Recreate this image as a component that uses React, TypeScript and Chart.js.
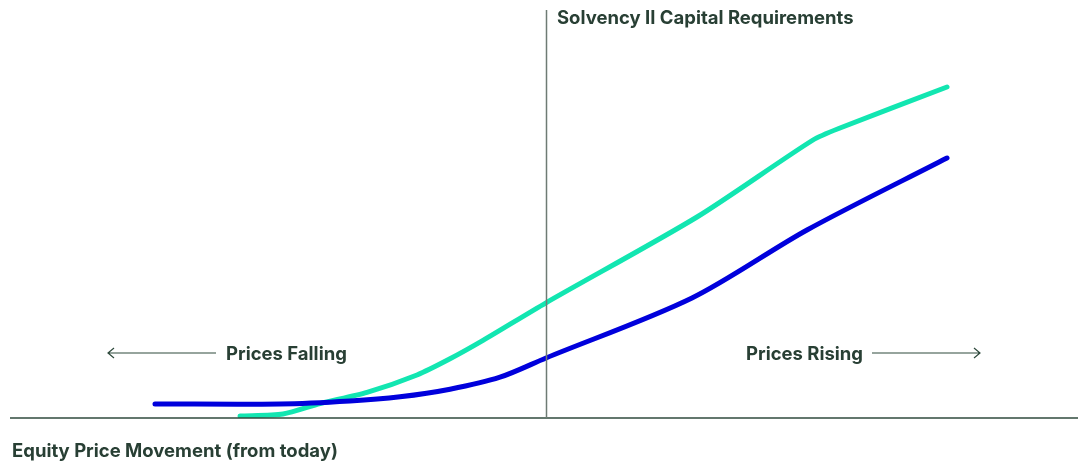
import React, { useEffect, useRef } from "react";
import { Chart, registerables } from "chart.js";

Chart.register(...registerables);

// Equity price movement (units relative to today = 0) and capital requirement levels
const tealX = [-76.5, -65.75, -56.5, -44.75, -32.25, -24, -15.75, 0, 37.75, 66.75, 73.5, 100.25];
const tealY = [0.5, 1, 3.6, 6.4, 10.75, 14.8, 19.4, 28.8, 50.25, 69.5, 72.5, 82.75];
const blueX = [-97.75, -66.5, -49, -36.5, -24, -11.5, 0, 36.5, 65.25, 100.25];
const blueY = [3.5, 3.5, 4.25, 5.3, 7.2, 10.2, 15.0, 30, 47, 65];

const X_MIN = -134;
const X_MAX = 133;
const Y_MIN = 0;
const Y_MAX = 102;

const TITLE = "Solvency II Capital Requirements";
const LEFT_LABEL = "Prices Falling";
const RIGHT_LABEL = "Prices Rising";
const AXIS_LABEL = "Equity Price Movement (from today)";

const TEXT_COLOR = "#283f34";
const FONT = "bold 18.5px Inter, 'Noto Sans', sans-serif";

const annotations = {
  id: "annotations",
  afterDraw(chart: any) {
    const ctx = chart.ctx;
    const xs = chart.scales.x;
    const ys = chart.scales.y;
    const area = chart.chartArea;
    const x0 = xs.getPixelForValue(0);
    const yAxis = ys.getPixelForValue(0);
    ctx.save();
    // x axis line
    ctx.strokeStyle = "#2f4a3d";
    ctx.lineWidth = 1.5;
    ctx.beginPath();
    ctx.moveTo(area.left, yAxis);
    ctx.lineTo(area.right, yAxis);
    ctx.stroke();
    // vertical line at today
    ctx.strokeStyle = "#6e7b74";
    ctx.lineWidth = 1.5;
    ctx.beginPath();
    ctx.moveTo(Math.round(x0) + 0.5, area.top);
    ctx.lineTo(Math.round(x0) + 0.5, yAxis);
    ctx.stroke();

    ctx.fillStyle = TEXT_COLOR;
    ctx.font = FONT;
    ctx.textBaseline = "middle";
    ctx.textAlign = "left";
    ctx.fillText(TITLE, x0 + 11, area.top + 8);

    const labelY = ys.getPixelForValue(16);
    ctx.fillText(LEFT_LABEL, xs.getPixelForValue(-80), labelY);
    ctx.fillText(RIGHT_LABEL, xs.getPixelForValue(50), labelY);
    ctx.fillText(AXIS_LABEL, area.left + 2, yAxis + 33);

    // arrows
    ctx.strokeStyle = "#2f4a3d";
    ctx.lineWidth = 1.2;
    const ay = labelY - 1;
    const lA = xs.getPixelForValue(-109.5);
    const lB = xs.getPixelForValue(-82.5);
    ctx.beginPath();
    ctx.moveTo(lA, ay);
    ctx.lineTo(lB, ay);
    ctx.moveTo(lA + 6, ay - 5);
    ctx.lineTo(lA, ay);
    ctx.lineTo(lA + 6, ay + 5);
    ctx.stroke();
    const rA = xs.getPixelForValue(81.5);
    const rB = xs.getPixelForValue(108.5);
    ctx.beginPath();
    ctx.moveTo(rA, ay);
    ctx.lineTo(rB, ay);
    ctx.moveTo(rB - 6, ay - 5);
    ctx.lineTo(rB, ay);
    ctx.lineTo(rB - 6, ay + 5);
    ctx.stroke();
    ctx.restore();
  },
};

export default function App() {
  const ref = useRef<HTMLCanvasElement | null>(null);
  useEffect(() => {
    if (!ref.current) return;
    const chart = new Chart(ref.current, {
      type: "line",
      data: {
        datasets: [
          {
            label: "Equity risk (blue)",
            data: blueX.map((x, i) => ({ x, y: blueY[i] })),
            borderColor: "#0000dc",
            borderWidth: 5,
            pointRadius: 0,
            tension: 0.3,
            borderCapStyle: "round",
            borderJoinStyle: "round",
            fill: false,
          },
          {
            label: "Equity risk (teal)",
            data: tealX.map((x, i) => ({ x, y: tealY[i] })),
            borderColor: "#12e6b1",
            borderWidth: 5,
            pointRadius: 0,
            tension: 0.25,
            borderCapStyle: "round",
            borderJoinStyle: "round",
            fill: false,
          },
        ],
      },
      options: {
        animation: false,
        responsive: false,
        maintainAspectRatio: false,
        layout: { padding: { left: 10, right: 8, top: 10, bottom: 45 } },
        plugins: { legend: { display: false }, tooltip: { enabled: false } },
        scales: {
          x: { type: "linear", min: X_MIN, max: X_MAX, display: false },
          y: { type: "linear", min: Y_MIN, max: Y_MAX, display: false },
        },
      },
      plugins: [annotations],
    } as any);
    return () => chart.destroy();
  }, []);
  return (
    <div style={{ position: "fixed", left: 0, top: 0, width: 1086, height: 463, background: "#fff" }}>
      <canvas ref={ref} width={1086} height={463} style={{ width: 1086, height: 463 }} />
    </div>
  );
}
